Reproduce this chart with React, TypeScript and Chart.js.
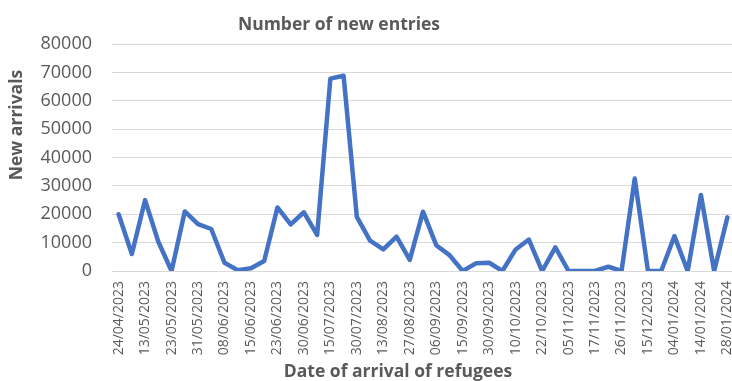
import React, { useEffect, useRef } from 'react';
import { Chart, registerables } from 'chart.js';

Chart.register(...registerables);

const CHART_TITLE = 'Number of new entries';
const X_TITLE = 'Date of arrival of refugees';
const Y_TITLE = 'New arrivals';

const dates = [
  '24/04/2023', '05/05/2023', '13/05/2023', '18/05/2023', '23/05/2023', '27/05/2023',
  '31/05/2023', '04/06/2023', '08/06/2023', '12/06/2023', '15/06/2023', '19/06/2023',
  '23/06/2023', '27/06/2023', '30/06/2023', '08/07/2023', '15/07/2023', '22/07/2023',
  '30/07/2023', '06/08/2023', '13/08/2023', '20/08/2023', '27/08/2023', '01/09/2023',
  '06/09/2023', '10/09/2023', '15/09/2023', '22/09/2023', '30/09/2023', '05/10/2023',
  '10/10/2023', '16/10/2023', '22/10/2023', '29/10/2023', '05/11/2023', '11/11/2023',
  '17/11/2023', '21/11/2023', '26/11/2023', '05/12/2023', '15/12/2023', '25/12/2023',
  '04/01/2024', '09/01/2024', '14/01/2024', '21/01/2024', '28/01/2024',
];

const arrivals = [
  20000, 6000, 25000, 10300, 0, 21000, 16500, 14800, 2900, 300,
  1000, 3500, 22400, 16400, 20700, 12700, 67800, 68800, 19100, 10700,
  7600, 12100, 3900, 20900, 9100, 5600, 0, 2700, 2900, 0,
  7600, 11100, 0, 8300, 0, 0, 0, 1500, 0, 32600,
  0, 0, 12300, 0, 26800, 0, 18900,
];

const Y_MIN = 0;
const Y_MAX = 80000;
const Y_STEP = 10000;

const TEXT_COLOR = '#595959';
const FONT_FAMILY = '"Open Sans"';

const titlesPlugin = {
  id: 'customTitles',
  afterDraw(chart: any) {
    const ctx = chart.ctx;
    ctx.save();
    ctx.fillStyle = TEXT_COLOR;
    ctx.textAlign = 'center';
    ctx.textBaseline = 'middle';
    ctx.font = `bold 17.5px ${FONT_FAMILY}`;
    ctx.fillText(CHART_TITLE, 339, 25);
    ctx.fillText(X_TITLE, 398, 372);
    ctx.translate(17, 125);
    ctx.rotate(-Math.PI / 2);
    ctx.fillText(Y_TITLE, 0, 0);
    ctx.restore();
  },
};

export default function App() {
  const canvasRef = useRef<HTMLCanvasElement | null>(null);

  useEffect(() => {
    if (!canvasRef.current) return;
    const chart = new Chart(canvasRef.current, {
      type: 'line',
      data: {
        labels: dates,
        datasets: [
          {
            data: arrivals,
            borderColor: '#4472C4',
            backgroundColor: '#4472C4',
            borderWidth: 4.5,
            pointRadius: 0,
            tension: 0,
            fill: false,
            borderJoinStyle: 'round',
            borderCapStyle: 'round',
          },
        ],
      },
      options: {
        animation: false,
        responsive: false,
        layout: { padding: { top: 44, right: 0, bottom: 0, left: 0 } },
        plugins: {
          legend: { display: false },
          tooltip: { enabled: false },
          title: { display: false },
        },
        scales: {
          x: {
            type: 'category',
            offset: true,
            grid: { display: false, drawTicks: false },
            border: { display: false },
            ticks: {
              autoSkip: false,
              minRotation: 90,
              maxRotation: 90,
              padding: 10,
              color: TEXT_COLOR,
              font: { family: FONT_FAMILY, size: 14 },
              callback: (_v: any, i: number) => (i % 2 === 0 ? dates[i] : ''),
            },
            afterFit: (s: any) => {
              s.height = 110;
              s.paddingLeft = 0;
              s.paddingRight = 0;
            },
          },
          y: {
            min: Y_MIN,
            max: Y_MAX,
            grid: { color: '#d9d9d9', lineWidth: 1, drawTicks: false },
            border: { display: false },
            ticks: {
              stepSize: Y_STEP,
              padding: 20,
              color: TEXT_COLOR,
              font: { family: FONT_FAMILY, size: 18 },
              callback: (v: any) => String(v),
            },
            afterFit: (s: any) => {
              s.width = 112;
            },
          },
        },
      },
      plugins: [titlesPlugin],
    });
    return () => chart.destroy();
  }, []);

  return (
    <div style={{ position: 'absolute', left: 0, top: 0, width: 732, height: 381, overflow: 'hidden', background: '#fff' }}>
      <canvas ref={canvasRef} width={734} height={381} style={{ display: 'block' }} />
    </div>
  );
}
